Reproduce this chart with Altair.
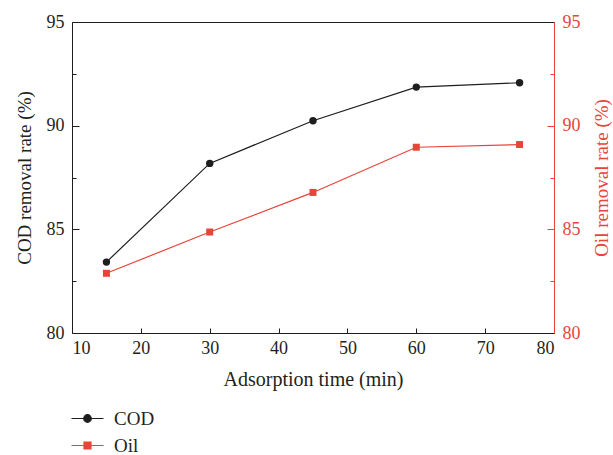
import altair as alt
import pandas as pd

# ---- data ----
times = [15, 30, 45, 60, 75]
cod = [83.42, 88.18, 90.24, 91.86, 92.07]
oil = [82.88, 84.87, 86.78, 88.96, 89.09]
series = ["COD", "Oil"]
x_ticks = [10, 20, 30, 40, 50, 60, 70, 80]
x_inner_ticks = [20, 30, 40, 50, 60, 70]
y_ticks = [80, 85, 90, 95]
y_major_inner = [85, 90]
y_minor_inner = [82.5, 87.5, 92.5]

BLACK = "#1e1e1e"
RED = "#e8443a"
TEXT = "#231f20"
FONT = "Liberation Serif"
W, H = 482, 311

df = pd.DataFrame({"time": times, "COD": cod, "Oil": oil})
long = pd.DataFrame({
    "time": times + times,
    "series": ["COD"] * len(times) + ["Oil"] * len(times),
    "value": cod + oil,
})

xscale = alt.Scale(domain=[10, 80], nice=False, zero=False)
yscale = alt.Scale(domain=[80, 95], nice=False, zero=False)
yscale2 = alt.Scale(domain=[80, 95], nice=False, zero=False)

circ = "M-3.2,0H3.2M-0.76,0A0.76,0.76,0,1,1,0.76,0A0.76,0.76,0,1,1,-0.76,0Z"
sq = "M-3.2,0H3.2M-0.7,-0.7H0.7V0.7H-0.7Z"

leg = alt.Legend(
    title=None, orient="none", legendX=6, legendY=387, direction="vertical",
    symbolSize=100, symbolStrokeWidth=1.2, symbolOpacity=1,
    labelFont=FONT, labelFontSize=19, labelColor=TEXT, labelOffset=17,
    rowPadding=7, padding=0,
)

# ---- COD group ----
L1 = alt.Chart(df).mark_line(color=BLACK, strokeWidth=1.2).encode(
    x=alt.X("time:Q", scale=xscale, axis=alt.Axis(
        orient="bottom", values=x_ticks, title="Adsorption time (min)",
        ticks=False, tickSize=0, labelPadding=6, titlePadding=12,
        titleFontSize=20,
        domainColor=BLACK, labelColor=TEXT, titleColor=TEXT)),
    y=alt.Y("COD:Q", scale=yscale, axis=alt.Axis(
        orient="left", values=y_ticks, title="COD removal rate (%)",
        ticks=False, tickSize=0, labelPadding=8, titlePadding=12,
        titleFontSize=19,
        domainColor=BLACK, labelColor=TEXT, titleColor=TEXT)),
)
L2 = alt.Chart(df).mark_point(filled=True, shape="circle", size=55,
                              color=BLACK, opacity=1).encode(
    x=alt.X("time:Q", scale=xscale, axis=alt.Axis(
        orient="top", offset=-H, values=x_inner_ticks, labels=False,
        domain=False, tickSize=5, tickColor=BLACK, title=None)),
    y=alt.Y("COD:Q", scale=yscale, axis=alt.Axis(
        orient="right", offset=-W, values=y_major_inner, labels=False,
        domain=False, tickSize=7, tickColor=BLACK, title=None)),
)
L3 = alt.Chart(long).mark_point(filled=True, opacity=0).encode(
    x=alt.X("time:Q", scale=xscale, axis=None),
    y=alt.Y("value:Q", scale=yscale, axis=alt.Axis(
        orient="right", offset=-W, values=y_minor_inner, labels=False,
        domain=False, tickSize=4, tickColor=BLACK, title=None)),
    fill=alt.Fill("series:N", scale=alt.Scale(domain=series, range=[BLACK, RED]), legend=leg),
    stroke=alt.Stroke("series:N", scale=alt.Scale(domain=series, range=[BLACK, RED]), legend=leg),
    shape=alt.Shape("series:N", scale=alt.Scale(domain=series, range=[circ, sq]), legend=leg),
)
cod_layer = alt.layer(L1, L2, L3).resolve_axis(x="independent", y="independent")

# ---- Oil group ----
L4 = alt.Chart(df).mark_line(color=RED, strokeWidth=1.2).encode(
    x=alt.X("time:Q", scale=xscale, axis=None),
    y=alt.Y("Oil:Q", scale=yscale2, axis=alt.Axis(
        orient="right", values=y_ticks, title="Oil removal rate (%)",
        ticks=False, tickSize=0, labelPadding=8, titlePadding=12,
        titleFontSize=19, titleAngle=270, titleBaseline="top",
        domainColor=RED, labelColor=RED, titleColor=RED)),
)
L5 = alt.Chart(df).mark_point(filled=True, shape="square", size=49,
                              color=RED, opacity=1).encode(
    x=alt.X("time:Q", scale=xscale, axis=None),
    y=alt.Y("Oil:Q", scale=yscale2, axis=alt.Axis(
        orient="left", offset=-W, values=y_major_inner, labels=False,
        domain=False, tickSize=7, tickColor=RED, title=None)),
)
L6 = alt.Chart(df).mark_point(filled=True, opacity=0).encode(
    x=alt.X("time:Q", scale=xscale, axis=None),
    y=alt.Y("Oil:Q", scale=yscale2, axis=alt.Axis(
        orient="left", offset=-W, values=y_minor_inner, labels=False,
        domain=False, tickSize=4, tickColor=RED, title=None)),
)
oil_layer = alt.layer(L4, L5, L6).resolve_axis(x="independent", y="independent")

chart = (
    alt.layer(cod_layer, oil_layer)
    .resolve_scale(y="independent")
    .resolve_axis(x="independent", y="independent")
    .properties(
        width=W, height=H,
        autosize=alt.AutoSizeParams(type="none"),
        padding={"left": 72, "top": 22, "right": 59, "bottom": 122},
        background="white",
    )
    .configure_view(stroke=BLACK, strokeWidth=1)
    .configure_axis(
        grid=False, labelFont=FONT, titleFont=FONT, labelFontSize=18,
        titleFontWeight="normal", domainWidth=1, tickWidth=1,
    )
)

chart.save("out.html", embed_options={"renderer": "svg", "actions": False})
